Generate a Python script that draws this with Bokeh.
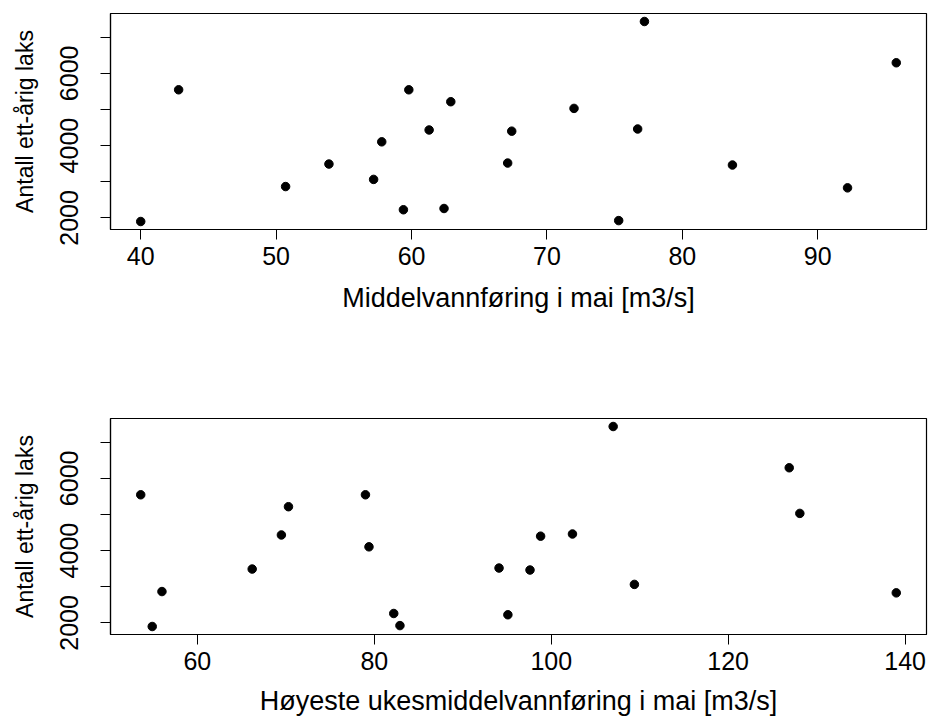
from bokeh.plotting import figure
from bokeh.layouts import column
from bokeh.models import FixedTicker, Range1d
from bokeh.embed import file_html
from bokeh.resources import INLINE

# Data (one point per year)
mai_middel = [40.0, 42.8, 50.7, 53.9, 57.2, 57.8, 59.4, 59.8, 61.3, 62.4,
              62.9, 67.1, 67.4, 72.0, 75.3, 76.7, 77.2, 83.7, 92.2, 95.8]
uke_hoyeste = [54.9, 53.6, 56.0, 66.2, 109.4, 79.4, 95.1, 79.0, 69.5, 82.2,
               70.3, 94.1, 98.8, 128.1, 82.9, 102.4, 107.0, 97.6, 139.0, 126.9]
laks = [1900, 5545, 2867, 3490, 3065, 4105, 2225, 5545, 4433, 2260,
        5215, 3518, 4400, 5030, 1925, 4460, 7435, 3463, 2831, 6293]

y_ticks = [2000, 3000, 4000, 5000, 6000, 7000]
y_tick_labels = {2000: "2000", 3000: "", 4000: "4000", 5000: "", 6000: "6000", 7000: ""}
x_ticks_top = [40, 50, 60, 70, 80, 90]
x_ticks_bottom = [60, 80, 100, 120, 140]

y_title = "Antall ett-årig laks"
x_title_top = "Middelvannføring i mai [m3/s]"
x_title_bottom = "Høyeste ukesmiddelvannføring i mai [m3/s]"

FONT = "Liberation Sans"


def pad_range(vals):
    lo, hi = min(vals), max(vals)
    d = (hi - lo) * 0.04
    return Range1d(lo - d, hi + d)


def make_panel(xs, xticks, xtitle, top_border, bottom_border, title_standoff):
    p = figure(frame_width=816, frame_height=216,
               min_border_left=110, min_border_right=3,
               min_border_top=top_border, min_border_bottom=bottom_border,
               x_range=pad_range(xs), y_range=pad_range(laks),
               output_backend="svg", toolbar_location=None,
               background_fill_color="white", border_fill_color="white")
    p.scatter(xs, laks, size=8.5, color="black", marker="circle")
    p.grid.visible = False
    p.outline_line_color = "black"
    p.outline_line_width = 1.2

    p.xaxis.ticker = FixedTicker(ticks=xticks)
    p.yaxis.ticker = FixedTicker(ticks=y_ticks)
    p.yaxis.major_label_overrides = y_tick_labels
    p.yaxis.major_label_orientation = "vertical"
    p.xaxis.axis_label = xtitle
    p.yaxis.axis_label = y_title

    for ax in (p.xaxis[0], p.yaxis[0]):
        ax.minor_tick_line_color = None
        ax.major_tick_in = 0
        ax.major_tick_out = 10
        ax.major_tick_line_color = "black"
        ax.axis_line_color = "black"
        ax.axis_line_width = 1.2
        ax.major_label_text_font = FONT
        ax.major_label_text_color = "black"
        ax.axis_label_text_font = FONT
        ax.axis_label_text_font_style = "normal"
        ax.axis_label_text_color = "black"
    p.xaxis.major_label_text_font_size = "25px"
    p.xaxis.axis_label_text_font_size = "27px"
    p.yaxis.major_label_text_font_size = "25px"
    p.yaxis.axis_label_text_font_size = "23px"
    p.xaxis.major_label_standoff = 7
    p.xaxis.axis_label_standoff = title_standoff
    p.yaxis.major_label_standoff = 22
    p.yaxis.axis_label_standoff = 20
    return p


p1 = make_panel(mai_middel, x_ticks_top, x_title_top, 13, 130, 15)
p2 = make_panel(uke_hoyeste, x_ticks_bottom, x_title_bottom, 59, 84, 13)

layout = column(p1, p2, spacing=0)
open("out.html", "w").write(file_html(layout, INLINE))
